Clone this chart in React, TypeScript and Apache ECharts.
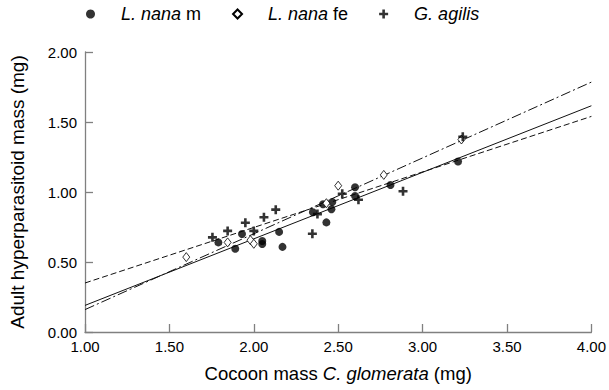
import React, { useEffect, useRef } from "react";
import * as echarts from "echarts";

// Scatter data [cocoon mass, adult mass]
const nanaMale: number[][] = [
  [1.79, 0.64], [1.89, 0.595], [1.93, 0.70], [2.05, 0.65], [2.05, 0.628],
  [2.15, 0.715], [2.17, 0.608], [2.35, 0.855], [2.43, 0.783], [2.41, 0.913],
  [2.465, 0.928], [2.46, 0.877], [2.60, 1.034], [2.60, 0.972], [2.81, 1.05],
  [3.21, 1.218],
];
const nanaFemale: number[][] = [
  [1.60, 0.535], [1.845, 0.64], [1.98, 0.656], [2.00, 0.63], [2.43, 0.92],
  [2.50, 1.045], [2.77, 1.122], [3.23, 1.375],
];
const agilis: number[][] = [
  [1.755, 0.676], [1.845, 0.722], [1.95, 0.78], [2.00, 0.722], [2.06, 0.82],
  [2.13, 0.874], [2.347, 0.702], [2.377, 0.842], [2.524, 0.988], [2.62, 0.945],
  [2.884, 1.005], [3.238, 1.395],
];
// Regression line end points
const lineDashDot: number[][] = [[1, 0.16], [4, 1.785]];
const lineSolid: number[][] = [[1, 0.19], [4, 1.616]];
const lineDashed: number[][] = [[1, 0.35], [4, 1.54]];

const seriesNames = ["L. nana m", "L. nana fe", "G. agilis"];
const legendLabels: Record<string, string> = {
  "L. nana m": "{s| }{i|L. nana} m",
  "L. nana fe": "{s| }{i|L. nana} fe",
  "G. agilis": "{s| }{i|G. agilis}",
};

const FONT = "'Liberation Sans', Arial, Helvetica, sans-serif";
const PLUS = "path://M3.2,0H5.8V3.2H9V5.8H5.8V9H3.2V5.8H0V3.2H3.2Z";

export default function App() {
  const ref = useRef<HTMLDivElement>(null);
  useEffect(() => {
    if (!ref.current) return;
    document.body.style.margin = "0";
    document.body.style.overflow = "hidden";
    const chart = echarts.init(ref.current, undefined, { renderer: "svg" });
    const lineSeries = (data: number[][], type: any) => ({
      type: "line",
      data,
      symbol: "none",
      silent: true,
      lineStyle: { color: "#111", width: 1, type },
      z: 1,
    });
    chart.setOption({
      animation: false,
      backgroundColor: "#fff",
      textStyle: { fontFamily: FONT },
      grid: { left: 82, right: 17, top: 52, bottom: 58 },
      legend: {
        data: seriesNames,
        left: 86,
        top: 5,
        padding: 0,
        itemWidth: 9,
        itemHeight: 9,
        itemGap: 31,
        formatter: (n: string) => legendLabels[n],
        textStyle: {
          fontSize: 18,
          color: "#000",
          fontFamily: FONT,
          rich: {
            s: { width: 21, fontSize: 18 },
            i: { fontStyle: "italic", fontSize: 18, color: "#000", fontFamily: FONT },
          },
        },
      },
      xAxis: {
        type: "value",
        min: 1,
        max: 4,
        interval: 0.5,
        name: "Cocoon mass {i|C. glomerata} (mg)",
        nameLocation: "middle",
        nameGap: 32,
        nameTextStyle: {
          fontSize: 18.5,
          color: "#000",
          fontFamily: FONT,
          rich: { i: { fontStyle: "italic", fontSize: 18.5, color: "#000", fontFamily: FONT } },
        },
        axisLine: { show: true, onZero: false, lineStyle: { color: "#808080", width: 1.3 } },
        axisTick: { show: true, inside: true, length: 8, lineStyle: { color: "#808080", width: 1.3 } },
        axisLabel: { fontSize: 15, color: "#000", margin: 7, formatter: (v: number) => v.toFixed(2) },
        splitLine: { show: false },
      },
      yAxis: {
        type: "value",
        min: 0,
        max: 2,
        interval: 0.5,
        name: "Adult hyperparasitoid mass (mg)",
        nameLocation: "middle",
        nameGap: 58,
        nameTextStyle: { fontSize: 19, color: "#000", fontFamily: FONT },
        axisLine: { show: true, onZero: false, lineStyle: { color: "#808080", width: 1.3 } },
        axisTick: { show: true, inside: true, length: 8, lineStyle: { color: "#808080", width: 1.3 } },
        axisLabel: { fontSize: 15, color: "#000", margin: 8, formatter: (v: number) => v.toFixed(2) },
        splitLine: { show: false },
      },
      series: [
        lineSeries(lineDashDot, [10, 3, 2, 3]),
        lineSeries(lineSolid, "solid"),
        lineSeries(lineDashed, [6, 3]),
        {
          name: seriesNames[0],
          type: "scatter",
          data: nanaMale,
          symbol: "circle",
          symbolSize: 8,
          itemStyle: { color: "#000" },
          z: 3,
        },
        {
          name: seriesNames[1],
          type: "scatter",
          data: nanaFemale,
          symbol: "diamond",
          symbolSize: [7, 9],
          itemStyle: { color: "#fff", borderColor: "#000", borderWidth: 0.8, opacity: 1 },
          z: 4,
        },
        {
          name: seriesNames[2],
          type: "scatter",
          data: agilis,
          symbol: PLUS,
          symbolSize: 9,
          itemStyle: { color: "#000" },
          z: 5,
        },
      ],
    });
    return () => chart.dispose();
  }, []);
  return (
    <div
      ref={ref}
      style={{ position: "absolute", left: 0, top: 0, width: 609, height: 390 }}
    />
  );
}
